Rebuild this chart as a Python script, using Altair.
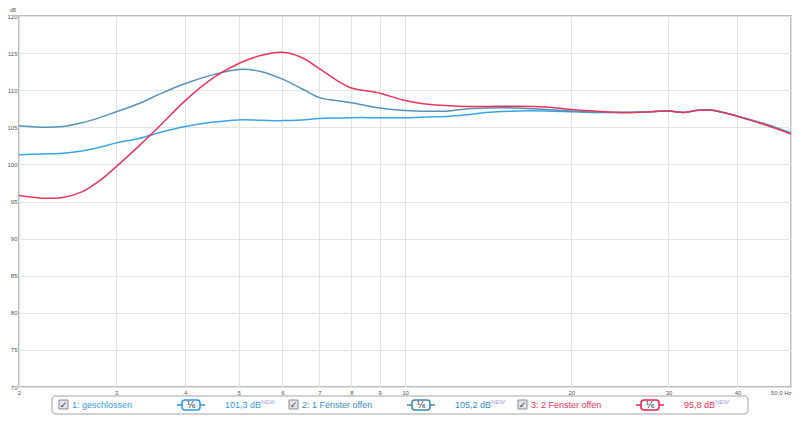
import altair as alt
import pandas as pd

# ---------------------------------------------------------------------------
# DATEN (abgelesen aus dem Messdiagramm)
# ---------------------------------------------------------------------------
freq = [2, 2.2, 2.4, 2.6, 2.8, 3, 3.3, 3.6, 4, 4.5, 5, 5.5, 6, 6.5, 7, 7.5,
        8, 9, 10, 11, 12, 13, 14, 16, 18, 20, 22, 25, 28, 30, 32, 34, 36,
        40, 45, 50]

geschlossen = [101.3, 101.4, 101.5, 101.8, 102.3, 102.9, 103.5, 104.3, 105.1,
               105.7, 106.0, 105.95, 105.9, 106.0, 106.2, 106.25, 106.3, 106.3,
               106.3, 106.4, 106.5, 106.7, 107.0, 107.2, 107.2, 107.1, 107.0,
               107.0, 107.1, 107.2, 107.0, 107.3, 107.3, 106.5, 105.4, 104.2]

ein_fenster = [105.2, 105.0, 105.1, 105.6, 106.3, 107.1, 108.2, 109.5, 110.9,
               112.1, 112.8, 112.5, 111.5, 110.2, 109.0, 108.6, 108.3, 107.6,
               107.25, 107.15, 107.2, 107.5, 107.6, 107.6, 107.4, 107.2, 107.05,
               107.0, 107.1, 107.2, 107.0, 107.3, 107.3, 106.5, 105.4, 104.2]

zwei_fenster = [95.8, 95.45, 95.55, 96.3, 97.8, 99.7, 102.5, 105.2, 108.6,
                111.7, 113.6, 114.7, 115.1, 114.4, 112.9, 111.4, 110.3, 109.6,
                108.6, 108.1, 107.9, 107.8, 107.8, 107.85, 107.75, 107.4, 107.2,
                107.0, 107.1, 107.2, 107.0, 107.3, 107.3, 106.5, 105.3, 104.1]

series_names = ["1: geschlossen", "2: 1 Fenster offen", "3: 2 Fenster offen"]
series_levels = ["101,3 dB", "105,2 dB", "95,8 dB"]
x_ticks = [2, 3, 4, 5, 6, 7, 8, 9, 10, 20, 30, 40, 50]
y_ticks = [70, 75, 80, 85, 90, 95, 100, 105, 110, 115, 120]

line_colors = ["#3ba4e6", "#5593b8", "#e8355e"]
text_colors = ["#3a9be0", "#3a8cc4", "#e53158"]
badge_colors = ["#2a95e8", "#3b87b3", "#e3204f"]

W, H = 772, 371

df = pd.DataFrame({"freq": freq,
                   series_names[0]: geschlossen,
                   series_names[1]: ein_fenster,
                   series_names[2]: zwei_fenster})
df_long = df.melt(id_vars=["freq"], var_name="Messung", value_name="dB")

# ---------------------------------------------------------------------------
# FREQUENZGANG
# ---------------------------------------------------------------------------
lines = (
    alt.Chart(df_long)
    .mark_line(strokeWidth=1.5, interpolate="catmull-rom")
    .encode(
        x=alt.X("freq:Q",
                scale=alt.Scale(type="log", domain=[2, 50], nice=False),
                axis=alt.Axis(values=x_ticks, format="d", title=None,
                              labelExpr="datum.value == 50 ? '50,0 Hz' : datum.label",
                              labelAlign={"condition": {"test": "datum.value == 50", "value": "right"},
                                          "value": "center"},
                              labelFontSize=6, labelColor="#555", labelPadding=2,
                              ticks=False, domain=False, gridColor="#e3e3e3")),
        y=alt.Y("dB:Q",
                scale=alt.Scale(domain=[70, 120], nice=False),
                axis=alt.Axis(values=y_ticks, format="d", title=None,
                              labelFontSize=6, labelColor="#555", labelPadding=2,
                              ticks=False, domain=False, gridColor="#e3e3e3")),
        color=alt.Color("Messung:N",
                        scale=alt.Scale(domain=series_names, range=line_colors),
                        legend=None),
        order=alt.Order("Messung:N"),
    )
)

# ---------------------------------------------------------------------------
# LEGENDE (nachgebaut als Textmarken unter dem Diagramm)
# ---------------------------------------------------------------------------
one = pd.DataFrame({"k": [0]})
base = alt.Chart(one)
mid = H + 18

layers = [
    lines,
    base.mark_text(text="dB", fontSize=5, color="#555", align="right", baseline="bottom")
    .encode(x=alt.value(-3), y=alt.value(-3.5)),
    base.mark_rect(fill="white", stroke="#a3a3a3", strokeWidth=1, cornerRadius=3)
    .encode(x=alt.value(33), x2=alt.value(729), y=alt.value(H + 9), y2=alt.value(H + 27)),
]

slot_x = [40, 270, 499]
new_dx = [36, 36, 31]
for i in range(3):
    sx = slot_x[i]
    layers += [
        base.mark_rect(fill="#e2e2ec", stroke="#8a8a8a", strokeWidth=1)
        .encode(x=alt.value(sx), x2=alt.value(sx + 9), y=alt.value(mid - 5), y2=alt.value(mid + 4)),
        base.mark_text(text="✓", font="DejaVu Sans", fontSize=9, color="#3a3a3a")
        .encode(x=alt.value(sx + 4.5), y=alt.value(mid)),
        base.mark_text(text=series_names[i], font="Liberation Sans", fontSize=9,
                       color=text_colors[i], align="left")
        .encode(x=alt.value(sx + 13), y=alt.value(mid)),
        base.mark_rule(stroke=badge_colors[i], strokeWidth=1.5)
        .encode(x=alt.value(sx + 118), x2=alt.value(sx + 146), y=alt.value(mid)),
        base.mark_rect(fill="white", stroke=badge_colors[i], strokeWidth=1.5, cornerRadius=3)
        .encode(x=alt.value(sx + 123), x2=alt.value(sx + 141), y=alt.value(mid - 5), y2=alt.value(mid + 5)),
        base.mark_text(text="⅙", font="DejaVu Sans", fontSize=9, color="#1a2a3a")
        .encode(x=alt.value(sx + 132), y=alt.value(mid)),
        base.mark_text(text=series_levels[i], font="Liberation Sans", fontSize=9,
                       color=text_colors[i], align="left")
        .encode(x=alt.value(sx + 166), y=alt.value(mid)),
        base.mark_text(text="NEW", font="Liberation Sans", fontSize=6,
                       color="#a4a4f4", align="left", baseline="top")
        .encode(x=alt.value(sx + 166 + new_dx[i]), y=alt.value(mid - 6)),
    ]

chart = (
    alt.layer(*layers)
    .properties(width=W, height=H,
                padding={"left": 11, "top": 8, "right": 1, "bottom": 28},
                autosize=alt.AutoSizeParams(type="none"))
    .configure_view(stroke="#a6a6a6", strokeWidth=1.5)
    .configure_axis(labelFont="Liberation Sans")
    .configure_text(baseline="middle")
)

chart.save("out.html", embed_options={"renderer": "svg", "actions": False})
